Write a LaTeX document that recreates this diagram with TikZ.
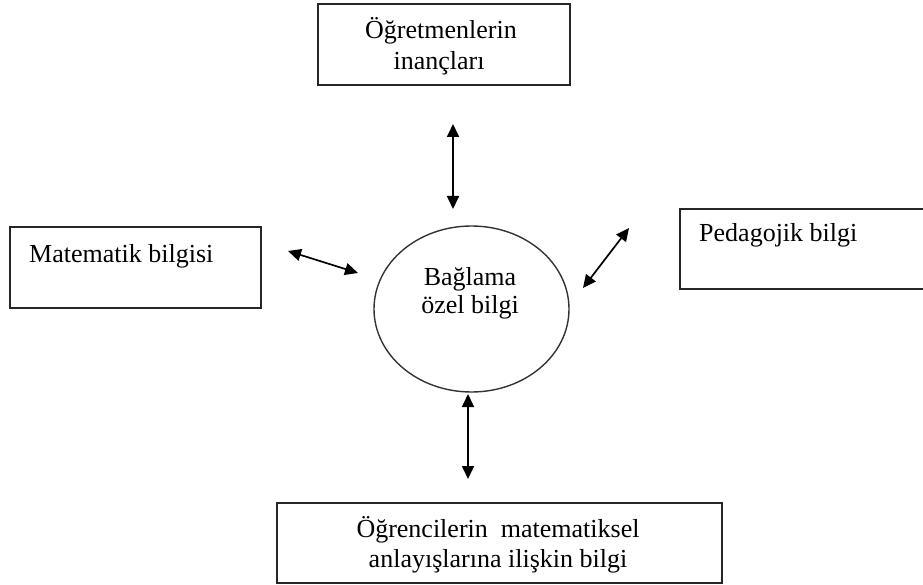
\documentclass[tikz,border=0pt]{standalone}
\usepackage{fontspec}
\setmainfont{Liberation Serif}
\usetikzlibrary{arrows.meta,shapes.geometric}
\begin{document}
\begin{tikzpicture}[x=1pt,y=-1pt,
  boxstyle/.style={draw=black!85, line width=2pt, inner sep=0pt},
  ovalstyle/.style={draw=black!80, line width=1.4pt, ellipse, inner sep=0pt},
  lbl/.style={inner sep=0pt, font=\fontsize{26}{30}\selectfont, text=black},
  dblarrow/.style={line width=1.7pt, {Triangle[length=13pt,width=12pt]}-{Triangle[length=13pt,width=12pt]}}
]
\useasboundingbox (0,0) rectangle (923,585);
\clip (0,0) rectangle (923,585);
% boxes
\node[boxstyle, minimum width=252pt, minimum height=81pt] (beliefs) at (444,45) {};
\node[boxstyle, minimum width=251pt, minimum height=81pt] (math) at (135.5,267.5) {};
\node[boxstyle, minimum width=260pt, minimum height=80pt] (ped) at (810,249) {};
\node[boxstyle, minimum width=445pt, minimum height=80pt] (stud) at (499.5,543) {};
\node[ovalstyle, minimum width=195pt, minimum height=166pt] (core) at (471.5,309) {};
% labels
\node[lbl, anchor=base] (beliefs1) at (441,39) {Öğretmenlerin};
\node[lbl, anchor=base] (beliefs2) at (439,70) {inançları};
\node[lbl, anchor=base west] (mathl) at (29,262) {Matematik bilgisi};
\node[lbl, anchor=base west] (pedl) at (699,242) {Pedagojik bilgi};
\node[lbl, anchor=base] (core1) at (470,285) {Bağlama};
\node[lbl, anchor=base] (core2) at (470,313) {özel bilgi};
\node[lbl, anchor=base] (stud1) at (498,537) {Öğrencilerin\ \ matematiksel};
\node[lbl, anchor=base] (stud2) at (498,567) {anlayışlarına ilişkin bilgi};
% arrow end points
\coordinate (tA) at (453,124);
\coordinate (tB) at (453,209);
\coordinate (lA) at (288,251);
\coordinate (lB) at (358,273);
\coordinate (rA) at (583,288);
\coordinate (rB) at (629,228);
\coordinate (bA) at (468,394);
\coordinate (bB) at (468,479);
\draw[dblarrow] (tA) -- (tB);
\draw[dblarrow] (lA) -- (lB);
\draw[dblarrow] (rA) -- (rB);
\draw[dblarrow] (bA) -- (bB);
\end{tikzpicture}
\end{document}
